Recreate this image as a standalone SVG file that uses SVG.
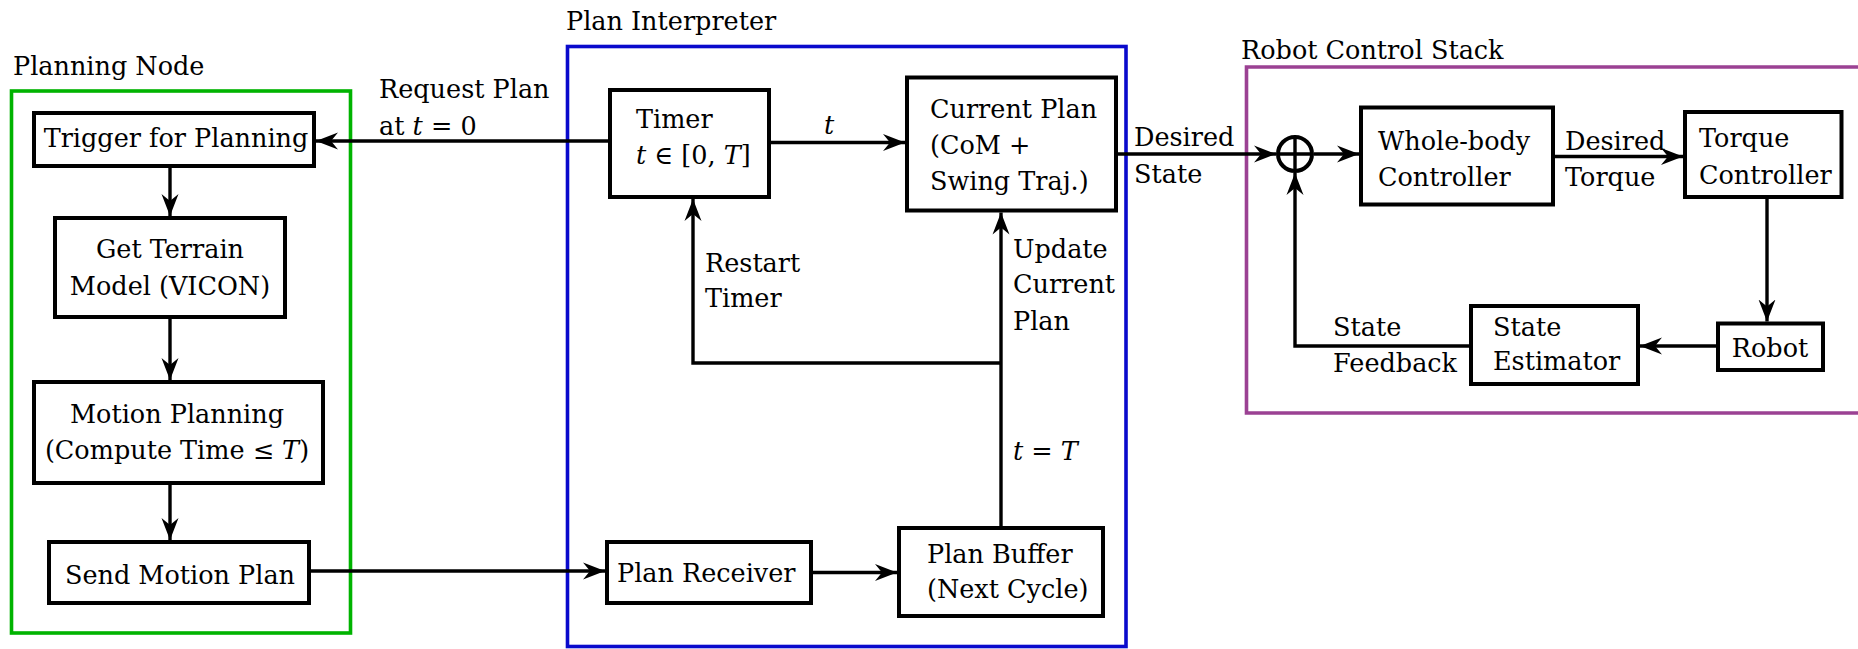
<svg xmlns="http://www.w3.org/2000/svg" width="1858" height="649" viewBox="0 0 1858 649">
  <style>
    text { font-family: "DejaVu Serif", "Liberation Serif", serif; font-size: 25.5px; fill: #000; }
    .mid { text-anchor: middle; }
    .it { font-style: italic; }
    .box { fill: #fff; stroke: #000; stroke-width: 4; }
    .frame { fill: none; stroke-width: 3.6; }
    .wire { fill: none; stroke: #000; stroke-width: 3.4; }
    .arrow { marker-end: url(#head); }
  </style>
  <defs>
    <marker id="head" markerUnits="userSpaceOnUse" markerWidth="24" markerHeight="20" viewBox="0 0 24 20" refX="22" refY="10" orient="auto">
      <path d="M22,10 L0,1.5 L7,10 L0,18.5 Z" fill="#000"/>
    </marker>
  </defs>
  <rect width="1858" height="649" fill="#fff"/>

  <!-- subsystem frames -->
  <g id="planning-node">
    <rect class="frame" x="11.5" y="91" width="339" height="542" stroke="#00b300"/>
    <text x="13" y="75">Planning Node</text>
  </g>
  <g id="plan-interpreter">
    <rect class="frame" x="567.5" y="46.5" width="558.5" height="600" stroke="#0a0acc"/>
    <text x="566" y="30">Plan Interpreter</text>
  </g>
  <g id="robot-control-stack">
    <path class="frame" d="M1862,67 H1246.5 V413 H1862" stroke="#9b4193"/>
    <text x="1241" y="59">Robot Control Stack</text>
  </g>

  <!-- connectors -->
  <g id="connectors">
    <path class="wire arrow" d="M610,141 H316"/>
    <path class="wire arrow" d="M170,166 V216"/>
    <path class="wire arrow" d="M170,317 V380"/>
    <path class="wire arrow" d="M170,483 V540"/>
    <path class="wire arrow" d="M309,571 H605"/>
    <path class="wire arrow" d="M811,572.5 H897"/>
    <path class="wire arrow" d="M769,142.5 H905"/>
    <path class="wire arrow" d="M1001,528 V212.5"/>
    <path class="wire arrow" d="M1001,363 H693 V199"/>
    <path class="wire arrow" d="M1116,154 H1276"/>
    <path class="wire arrow" d="M1314,154 H1359"/>
    <path class="wire arrow" d="M1553,156.5 H1683"/>
    <path class="wire arrow" d="M1767,197 V321.5"/>
    <path class="wire arrow" d="M1718,346 H1640"/>
    <path class="wire arrow" d="M1473,346 H1295 V173"/>

    <text x="379" y="98">Request Plan</text>
    <text x="379" y="135">at <tspan class="it">t</tspan> = 0</text>
    <text x="824" y="134" class="it">t</text>
    <text x="705" y="272">Restart</text>
    <text x="705" y="307">Timer</text>
    <text x="1013" y="258">Update</text>
    <text x="1013" y="293">Current</text>
    <text x="1013" y="330">Plan</text>
    <text x="1013" y="460"><tspan class="it">t</tspan> = <tspan class="it">T</tspan></text>
    <text x="1134" y="146">Desired</text>
    <text x="1134" y="183">State</text>
    <text x="1565" y="150">Desired</text>
    <text x="1565" y="186">Torque</text>
    <text x="1333" y="336">State</text>
    <text x="1333" y="372">Feedback</text>
  </g>

  <!-- planning node blocks -->
  <g id="trigger">
    <rect class="box" x="34" y="113" width="280" height="53"/>
    <text class="mid" x="176" y="147">Trigger for Planning</text>
  </g>
  <g id="terrain">
    <rect class="box" x="55" y="218" width="230" height="99"/>
    <text class="mid" x="170" y="258">Get Terrain</text>
    <text class="mid" x="170" y="295">Model (VICON)</text>
  </g>
  <g id="motion-planning">
    <rect class="box" x="34" y="382" width="289" height="101"/>
    <text class="mid" x="177" y="423">Motion Planning</text>
    <text class="mid" x="177" y="459">(Compute Time ≤ <tspan class="it">T</tspan>)</text>
  </g>
  <g id="send-plan">
    <rect class="box" x="49" y="542" width="260" height="61"/>
    <text class="mid" x="180" y="584">Send Motion Plan</text>
  </g>

  <!-- plan interpreter blocks -->
  <g id="timer">
    <rect class="box" x="610" y="90" width="159" height="107"/>
    <text x="636" y="128">Timer</text>
    <text x="636" y="164"><tspan class="it">t</tspan> ∈ [0, <tspan class="it">T</tspan>]</text>
  </g>
  <g id="current-plan">
    <rect class="box" x="907" y="77.5" width="209" height="133"/>
    <text x="930" y="118">Current Plan</text>
    <text x="930" y="154">(CoM +</text>
    <text x="930" y="190">Swing Traj.)</text>
  </g>
  <g id="plan-receiver">
    <rect class="box" x="607" y="542" width="204" height="61"/>
    <text x="617" y="582">Plan Receiver</text>
  </g>
  <g id="plan-buffer">
    <rect class="box" x="899" y="528" width="204" height="88"/>
    <text x="927" y="563">Plan Buffer</text>
    <text x="927" y="598">(Next Cycle)</text>
  </g>

  <!-- robot control stack blocks -->
  <g id="sum">
    <circle cx="1295" cy="154" r="17" fill="#fff" stroke="#000" stroke-width="4"/>
    <path d="M1278,154 H1312 M1295,137 V171" stroke="#000" stroke-width="3.4"/>
  </g>
  <g id="whole-body">
    <rect class="box" x="1361" y="107.5" width="192" height="97"/>
    <text x="1378" y="150">Whole-body</text>
    <text x="1378" y="186">Controller</text>
  </g>
  <g id="torque-controller">
    <rect class="box" x="1685" y="112" width="156.5" height="85"/>
    <text x="1699" y="147">Torque</text>
    <text x="1699" y="184">Controller</text>
  </g>
  <g id="robot">
    <rect class="box" x="1718" y="323.5" width="105" height="46.5"/>
    <text class="mid" x="1770" y="357">Robot</text>
  </g>
  <g id="state-estimator">
    <rect class="box" x="1471" y="306" width="167" height="78"/>
    <text x="1493" y="336">State</text>
    <text x="1493" y="370">Estimator</text>
  </g>
</svg>
